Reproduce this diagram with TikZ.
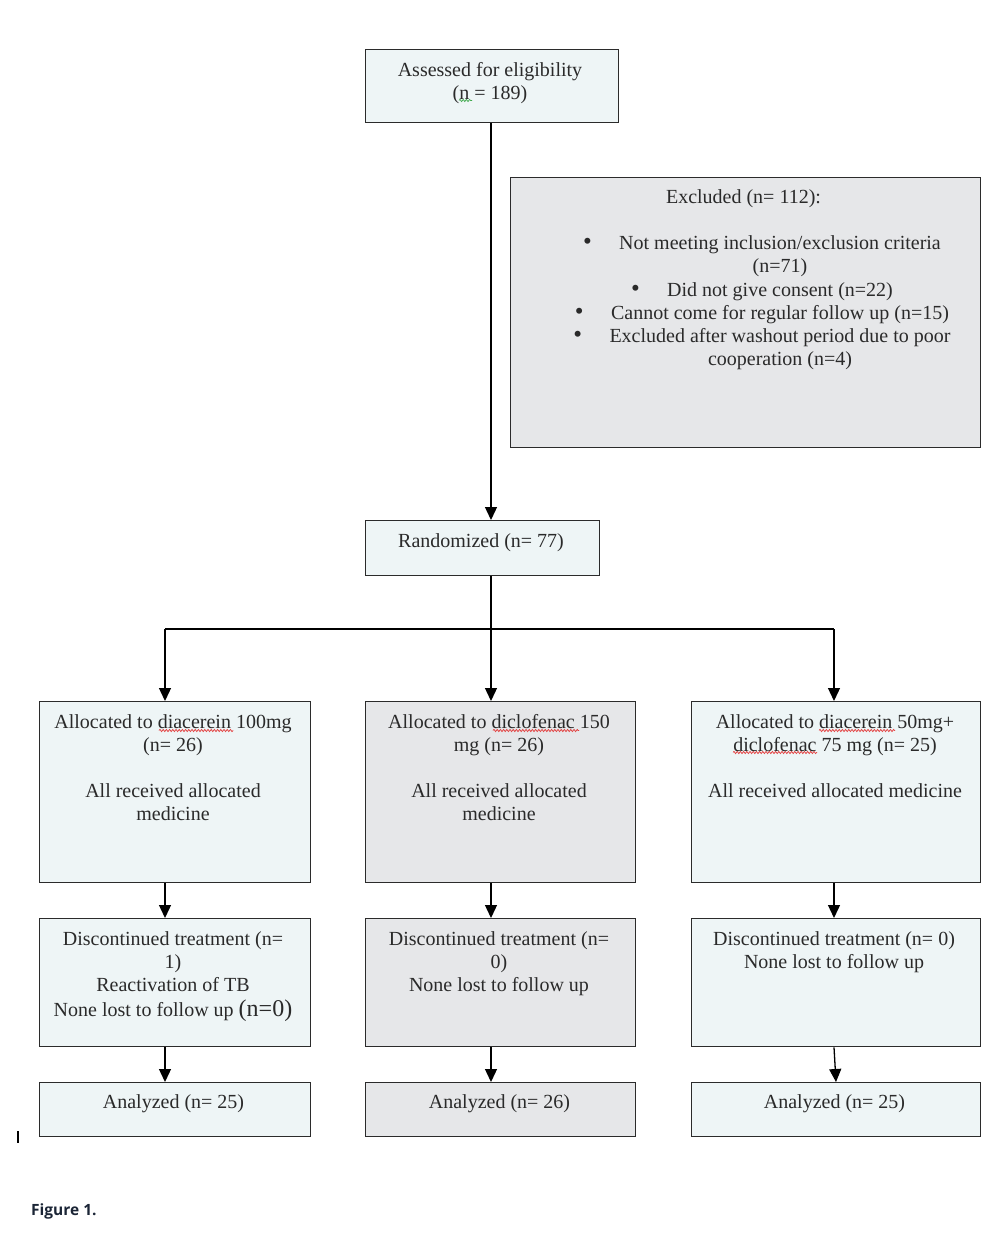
\documentclass[tikz,border=0pt]{standalone}
\usepackage{fontspec}
\setmainfont{Liberation Serif}
\newfontfamily\figfont{Open Sans}
\usetikzlibrary{arrows.meta,decorations.pathmorphing}
\definecolor{boxblue}{HTML}{EEF5F6}
\definecolor{boxgray}{HTML}{E6E7E9}
\definecolor{linec}{HTML}{2B2B2B}
\definecolor{textc}{HTML}{2A2A2A}
\definecolor{figc}{HTML}{1B2536}
\definecolor{spellred}{HTML}{E23A3A}
\definecolor{spellgreen}{HTML}{3DA84A}
\begin{document}
\begin{tikzpicture}[x=1pt,y=-1pt,
  box/.style={draw=linec, line width=1.3pt, inner sep=0, anchor=north west},
  bluebox/.style={box, fill=boxblue},
  graybox/.style={box, fill=boxgray},
  txt/.style={text=textc, font=\fontsize{20}{23}\selectfont, align=center, inner sep=0, anchor=north},
  bul/.style={text=textc, font=\fontsize{20}{23}\selectfont, inner sep=0, anchor=north east},
  arr/.style={draw=black, line width=1.3pt, -{Triangle[length=13pt,width=12pt]}},
  conn/.style={draw=black, line width=1.3pt},
  squig/.style={line width=0.7pt, decorate, decoration={snake, amplitude=1.1pt, segment length=3.2pt}},
  ]
\useasboundingbox (0,0) rectangle (1007,1244);

% boxes
\node[bluebox, minimum width=253pt, minimum height=73pt] (assess) at (365,49) {};
\node[graybox, minimum width=470pt, minimum height=270pt] (excl) at (510,177) {};
\node[bluebox, minimum width=234pt, minimum height=55pt] (rand) at (365,520) {};
\node[bluebox, minimum width=271pt, minimum height=181pt] (alA) at (39,701) {};
\node[graybox, minimum width=270pt, minimum height=181pt] (alB) at (365,701) {};
\node[bluebox, minimum width=289pt, minimum height=181pt] (alC) at (691,701) {};
\node[bluebox, minimum width=271pt, minimum height=128pt] (diA) at (39,918) {};
\node[graybox, minimum width=270pt, minimum height=128pt] (diB) at (365,918) {};
\node[bluebox, minimum width=289pt, minimum height=128pt] (diC) at (691,918) {};
\node[bluebox, minimum width=271pt, minimum height=54pt] (anA) at (39,1082) {};
\node[graybox, minimum width=270pt, minimum height=54pt] (anB) at (365,1082) {};
\node[bluebox, minimum width=289pt, minimum height=54pt] (anC) at (691,1082) {};

% texts
\node[txt] (assesst) at (490,60.5) {\strut Assessed for eligibility\\\strut(n = 189)};
\node[txt] (exclt) at (743.5,187.5) {\strut Excluded (n= 112):};
\node[txt] (e1) at (780,233.5) {\strut Not meeting inclusion/exclusion criteria\\\strut(n=71)};
\node[txt] (e2) at (780,280.5) {\strut Did not give consent (n=22)};
\node[txt] (e3) at (780,303.5) {\strut Cannot come for regular follow up (n=15)};
\node[txt] (e4) at (780,326.5) {\strut Excluded after washout period due to poor\\\strut cooperation (n=4)};
\node[bul] (b1) at ([xshift=-27pt]e1.north west) {\strut\scalebox{1.25}{\textbullet}};
\node[bul] (b2) at ([xshift=-27pt]e2.north west) {\strut\scalebox{1.25}{\textbullet}};
\node[bul] (b3) at ([xshift=-27pt]e3.north west) {\strut\scalebox{1.25}{\textbullet}};
\node[bul] (b4) at ([xshift=-27pt]e4.north west) {\strut\scalebox{1.25}{\textbullet}};
\node[txt] (randt) at (481,531.5) {\strut Randomized (n= 77)};
\node[txt] (alAt) at (173,712.5) {\strut Allocated to diacerein 100mg\\\strut(n= 26)\\\strut\\\strut All received allocated\\\strut medicine};
\node[txt] (alBt) at (499,712.5) {\strut Allocated to diclofenac 150\\\strut mg (n= 26)\\\strut\\\strut All received allocated\\\strut medicine};
\node[txt] (alCt) at (835,712.5) {\strut Allocated to diacerein 50mg+\\\strut diclofenac 75 mg (n= 25)\\\strut\\\strut All received allocated medicine};
\node[txt] (diAt) at (173,929.5) {\strut Discontinued treatment (n=\\\strut 1)\\\strut Reactivation of TB\\\strut None lost to follow up {\fontsize{24}{23}\selectfont(n=0)}};
\node[txt] (diBt) at (499,929.5) {\strut Discontinued treatment (n=\\\strut 0)\\\strut None lost to follow up};
\node[txt] (diCt) at (834,929.5) {\strut Discontinued treatment (n= 0)\\\strut None lost to follow up};
\node[txt] (anAt) at (173.5,1092.5) {\strut Analyzed (n= 25)};
\node[txt] (anBt) at (499.5,1092.5) {\strut Analyzed (n= 26)};
\node[txt] (anCt) at (834.5,1092.5) {\strut Analyzed (n= 25)};

% spell-check underlines
\draw[squig, spellgreen] (459,100.5) -- (472,100.5);
\draw[squig, spellred] (159,730.5) -- (233,730.5);
\draw[squig, spellred] (493,730.5) -- (579,730.5);
\draw[squig, spellred] (819,730.5) -- (895,730.5);
\draw[squig, spellred] (733,752.5) -- (817,752.5);

% connector coordinates
\coordinate (cx) at (491,0);
\coordinate (split) at (491,629);
\coordinate (hl) at (165,629);
\coordinate (hr) at (834,629);
\coordinate (xr2) at (836,0);

\draw[arr] (assess.south -| cx) -- (rand.north -| cx);
\draw[conn] (rand.south -| split) -- (split);
\draw[conn] (hl) -- (hr);
\draw[arr] (hl) -- (alA.north -| hl);
\draw[arr] (split) -- (alB.north -| split);
\draw[arr] (hr) -- (alC.north -| hr);
\draw[arr] (alA.south -| hl) -- (diA.north -| hl);
\draw[arr] (alB.south -| split) -- (diB.north -| split);
\draw[arr] (alC.south -| hr) -- (diC.north -| hr);
\draw[arr] (diA.south -| hl) -- (anA.north -| hl);
\draw[arr] (diB.south -| split) -- (anB.north -| split);
\draw[arr] (diC.south -| hr) -- (anC.north -| xr2);

% stray cursor mark
\draw[line width=1.5pt, black] (18,1131) -- (18,1143);

\node[anchor=west, inner sep=0, text=figc, font=\figfont\bfseries\fontsize{15.5}{18}\selectfont] (fig) at (31,1211) {Figure 1.};
\end{tikzpicture}
\end{document}
